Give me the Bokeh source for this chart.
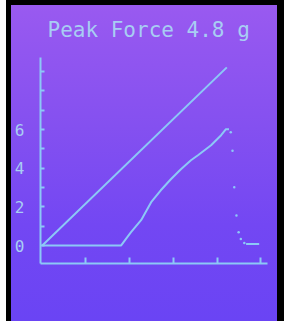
from bokeh.plotting import figure
from bokeh.models import FixedTicker, Range1d
from bokeh.embed import file_html
from bokeh.resources import INLINE

# ---- data ----
title_text = "Peak Force 4.8 g"
ref_x = [0.0, 4.22]
ref_y = [0.0, 9.22]
force_x = [0.0, 1.80, 1.91, 2.03, 2.26, 2.49, 2.71, 2.94, 3.17, 3.40, 3.56, 3.86, 4.09, 4.20, 4.27]
force_y = [0.0, 0.0, 0.33, 0.69, 1.31, 2.24, 2.86, 3.43, 3.95, 4.41, 4.67, 5.19, 5.71, 6.02, 6.02]
drop_x = [4.31, 4.35, 4.39, 4.44, 4.49, 4.54, 4.62]
drop_y = [5.86, 4.91, 3.02, 1.55, 0.69, 0.34, 0.13]
tail_x = [4.66, 4.96]
tail_y = [0.08, 0.08]
y_ticks = [0, 1, 2, 3, 4, 5, 6, 7, 8, 9]
y_tick_labels = {0: "0", 2: "2", 4: "4", 6: "6"}
x_ticks = [1, 2, 3, 4, 5]

LINE = "#8cc8f6"
TEXT = "#a8cdf3"
W, H = 284, 321

p = figure(width=W, height=H, output_backend="svg", toolbar_location=None,
           x_range=Range1d(-0.04, 5.15), y_range=Range1d(-0.93, 9.73),
           min_border_left=40, min_border_right=17, min_border_top=57, min_border_bottom=58)
p.background_fill_alpha = 0
p.border_fill_alpha = 0
p.outline_line_color = None
p.grid.visible = False

# screen frame (white margin, black bezel) over a purple gradient, drawn as CSS background
p.styles = {
    "background": (
        "linear-gradient(to right, #ffffff 0px, #ffffff 6px, #000000 6px, #000000 11px, "
        "transparent 11px, transparent 277px, #000000 277px, #000000 284px), "
        "linear-gradient(to bottom, #000000 0px, #000000 5px, transparent 5px), "
        "linear-gradient(to bottom, #9a5af0 0%, #8450f0 40%, #7347f3 70%, #6a44f4 100%)"
    )
}

p.title.text = title_text
p.title.text_font = "DejaVu Sans Mono"
p.title.text_font_size = "21px"
p.title.text_font_style = "normal"
p.title.text_color = TEXT
p.title.align = "left"
p.title.offset = 7
p.title.standoff = 31

for ax in (p.xaxis[0], p.yaxis[0]):
    ax.axis_line_color = LINE
    ax.axis_line_width = 2
    ax.major_tick_line_color = LINE
    ax.major_tick_line_width = 2
    ax.minor_tick_line_color = None
    ax.major_tick_out = 0
    ax.major_label_text_color = TEXT
    ax.major_label_text_font = "DejaVu Sans Mono"
    ax.major_label_text_font_size = "16px"

p.yaxis[0].ticker = FixedTicker(ticks=y_ticks)
p.yaxis[0].major_tick_in = 4
p.yaxis[0].major_label_overrides = {t: y_tick_labels.get(t, "") for t in y_ticks}
p.yaxis[0].major_label_standoff = 16
p.xaxis[0].ticker = FixedTicker(ticks=x_ticks)
p.xaxis[0].major_tick_in = 6
p.xaxis[0].major_label_overrides = {t: "" for t in x_ticks}

p.line(ref_x, ref_y, line_color=LINE, line_width=2)
p.line(force_x, force_y, line_color=LINE, line_width=2)
p.scatter(drop_x, drop_y, size=2.5, fill_color=LINE, line_color=None)
p.line(tail_x, tail_y, line_color=LINE, line_width=2)

open("out.html", "w").write(file_html(p, INLINE))
